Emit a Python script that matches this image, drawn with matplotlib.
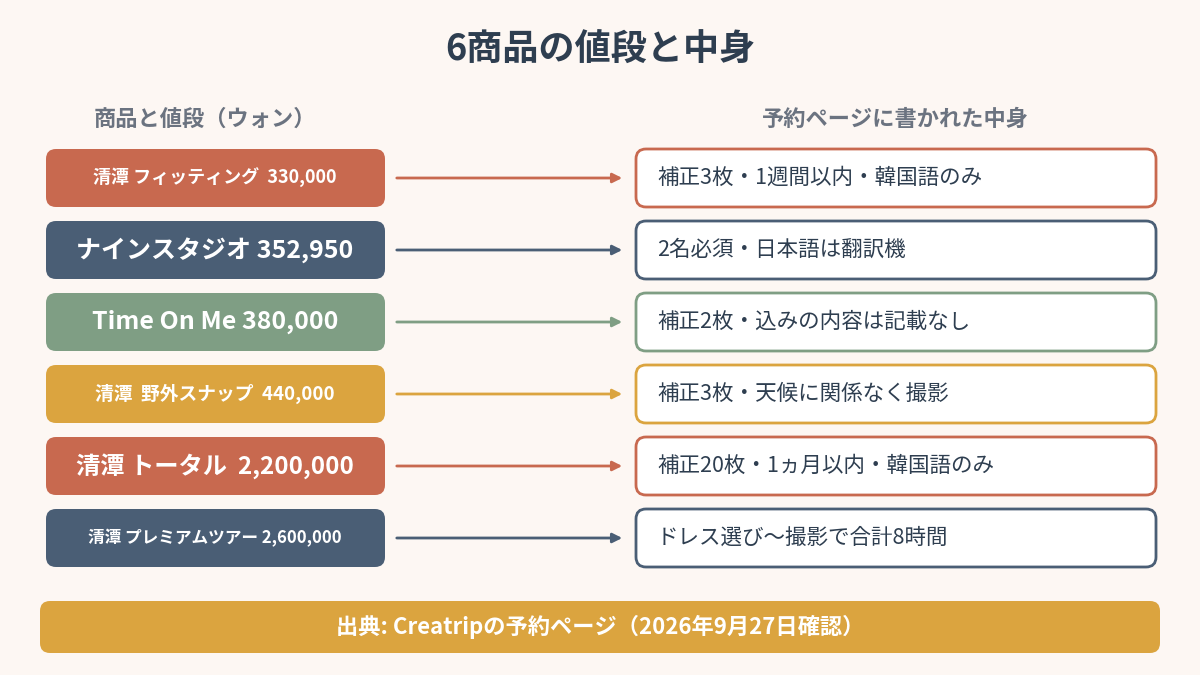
import matplotlib
matplotlib.use("Agg")
import matplotlib.pyplot as plt
from matplotlib.patches import FancyBboxPatch

plt.rcParams['font.family'] = ['Noto Sans CJK JP', 'DejaVu Sans']

names = ["清潭 フィッティング", "ナインスタジオ", "Time On Me", "清潭  野外スナップ", "清潭 トータル", "清潭 プレミアムツアー"]
prices = ["330,000", "352,950", "380,000", "440,000", "2,200,000", "2,600,000"]
seps = ["  ", " ", " ", "  ", "  ", " "]
contents = ["補正3枚・1週間以内・韓国語のみ", "2名必須・日本語は翻訳機", "補正2枚・込みの内容は記載なし",
            "補正3枚・天候に関係なく撮影", "補正20枚・1ヵ月以内・韓国語のみ", "ドレス選び〜撮影で合計8時間"]
colors = ["#C8694F", "#4A5E75", "#7F9E84", "#DBA43F", "#C8694F", "#4A5E75"]
label_sizes = [13, 18, 18, 13.5, 17.5, 12]

bg = "#FDF7F3"
fig = plt.figure(figsize=(12, 6.75), dpi=100, facecolor=bg)
ax = fig.add_axes([0, 0, 1, 1])
ax.set_xlim(0, 1200); ax.set_ylim(675, 0); ax.axis('off'); ax.set_facecolor(bg)

ax.text(600, 50, "6商品の値段と中身", ha='center', va='center', fontsize=26, fontweight='bold', color="#2E3E50")
ax.text(205, 119, "商品と値段（ウォン）", ha='center', va='center', fontsize=16, fontweight='bold', color="#6B7380")
ax.text(895, 119, "予約ページに書かれた中身", ha='center', va='center', fontsize=16, fontweight='bold', color="#6B7380")

h = 58
for i in range(len(names)):
    cy = 178 + 72 * i
    ax.add_patch(FancyBboxPatch((46, cy - h / 2), 339, h, boxstyle="round,pad=0,rounding_size=10",
                                fc=colors[i], ec='none'))
    ax.text(215, cy, names[i] + seps[i] + prices[i], ha='center', va='center', fontsize=label_sizes[i],
            fontweight='bold', color='white')
    ax.add_patch(FancyBboxPatch((636, cy - h / 2), 520, h, boxstyle="round,pad=0,rounding_size=10",
                                fc='white', ec=colors[i], lw=2))
    ax.text(657, cy, contents[i], ha='left', va='center', fontsize=15.5, color="#2E3E50")
    ax.annotate("", xy=(625, cy), xytext=(394, cy),
                arrowprops=dict(arrowstyle='-|>', color=colors[i], lw=2, mutation_scale=14))

ax.add_patch(FancyBboxPatch((40, 601), 1120, 52, boxstyle="round,pad=0,rounding_size=10", fc="#DBA43F", ec='none'))
ax.text(600, 627, "出典: Creatripの予約ページ（2026年9月27日確認）", ha='center', va='center', fontsize=16,
        fontweight='bold', color='white')

fig.savefig("out.png", dpi=100, facecolor=bg)
